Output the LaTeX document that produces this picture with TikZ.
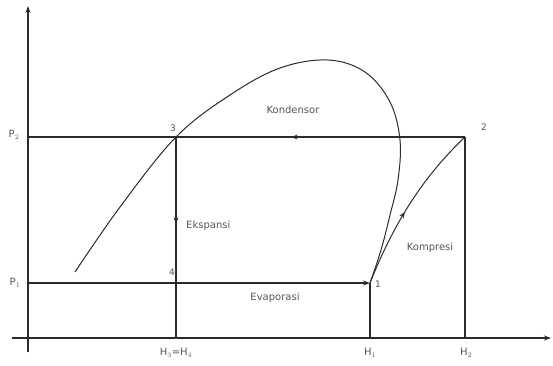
\documentclass[tikz,border=0pt]{standalone}
\usepackage{fontspec}
\setmainfont{DejaVu Sans}
\usetikzlibrary{arrows.meta,decorations.markings}
\definecolor{ln}{HTML}{2B2B2B}
\definecolor{tx}{HTML}{555555}
\tikzset{
  line/.style={draw=ln, line width=1.2pt},
  curve/.style={draw=ln, line width=1pt},
  lbl/.style={text=tx, font=\fontsize{10}{12}\selectfont, inner sep=1pt},
  num/.style={text=tx, font=\fontsize{9}{11}\selectfont, inner sep=1pt},
  midarrow/.style={postaction={decorate}, decoration={markings, mark=at position #1 with {\arrow{Stealth[length=6pt,width=5pt]}}}},
  tipend/.style={-{Stealth[length=7pt,width=5pt]}}
}
\begin{document}
\begin{tikzpicture}[x=1pt,y=-1pt]
\useasboundingbox (0,0) rectangle (553,365);
% axes
\coordinate (yb) at (28,352);
\coordinate (yt) at (28,6);
\coordinate (xl) at (12,338);
\coordinate (xr) at (551,338);
\draw[line, tipend] (yb) -- (yt);
\draw[line, tipend] (xl) -- (xr);
% state points
\coordinate (p1) at (370,283);
\coordinate (p2) at (465,137);
\coordinate (p3) at (176,137);
\coordinate (p4) at (176,283);
\coordinate (ay2) at (28,137);
\coordinate (ay1) at (28,283);
\coordinate (h34) at (176,338);
\coordinate (h1) at (370,338);
\coordinate (h2) at (465,338);
% lines
\draw[line, midarrow=0.6] (p2) -- (p3);
\draw[line] (p3) -- (ay2);
\draw[line, tipend] (ay1) -- (p1);
\draw[line, midarrow=0.43] (p3) -- (h34);
\draw[line] (p1) -- (h1);
\draw[line] (p2) -- (h2);
% compression
\draw[curve, midarrow=0.45] (p1) .. controls (395,220) and (425,175) .. (p2);
% saturation dome
\draw[curve] plot[smooth, tension=0.6] coordinates {(75,272) (120,207) (p3) (230,95) (280,68) (328,60) (365,72) (390,102) (400,140) (398,180) (390,215) (381,250) (p1)};
% labels
\node[lbl] (lp2) at (14,135) {P$_2$};
\node[lbl] (lp1) at (15,283) {P$_1$};
\node[num] (l3) at (173,128) {3};
\node[num] (l2) at (484,127) {2};
\node[num] (l4) at (172,272) {4};
\node[num] (l1) at (378,284) {1};
\node[lbl] (lk) at (293,110) {Kondensor};
\node[lbl, anchor=west] (le) at (185,226) {Ekspansi};
\node[lbl] (lkp) at (430,248) {Kompresi};
\node[lbl] (lev) at (275,298) {Evaporasi};
\node[lbl] (lh34) at (176,353) {H$_3$=H$_4$};
\node[lbl] (lh1) at (370,353) {H$_1$};
\node[lbl] (lh2) at (466,353) {H$_2$};
\end{tikzpicture}
\end{document}
